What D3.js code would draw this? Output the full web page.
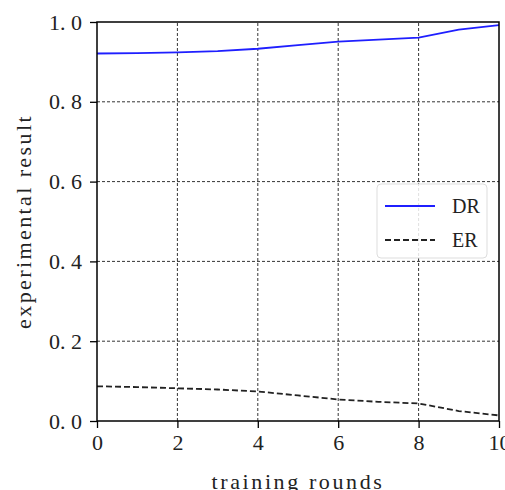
<!DOCTYPE html>
<html>
<head>
<meta charset="utf-8">
<script src="https://cdn.jsdelivr.net/npm/d3@7"></script>
<style>
  body { margin: 0; background: #fff; }
  svg text { font-family: "Liberation Serif", "DejaVu Serif", serif; fill: #222; }
</style>
</head>
<body>
<div id="chart"></div>
<script>
// data
const rounds = [0, 1, 2, 3, 4, 5, 6, 7, 8, 9, 10];
const drValues = [0.921, 0.922, 0.924, 0.927, 0.933, 0.942, 0.951, 0.956, 0.961, 0.981, 0.992];
const erValues = [0.087, 0.085, 0.082, 0.079, 0.074, 0.064, 0.054, 0.048, 0.044, 0.025, 0.014];
const xTicks = [0, 2, 4, 6, 8, 10];
const yTicks = [0, 0.2, 0.4, 0.6, 0.8, 1.0];

const width = 505, height = 490;
const margin = {left: 97, right: 6, top: 22, bottom: 69};

const svg = d3.select("#chart").append("svg")
  .attr("width", width).attr("height", height);

const x = d3.scaleLinear().domain([0, 10]).range([margin.left, width - margin.right]);
const y = d3.scaleLinear().domain([0, 1]).range([height - margin.bottom, margin.top]);

// grid
svg.append("g").selectAll("line").data(xTicks.slice(1, -1)).enter().append("line")
  .attr("x1", d => x(d)).attr("x2", d => x(d))
  .attr("y1", y(0)).attr("y2", y(1))
  .attr("stroke", "#000").attr("stroke-width", 0.8).attr("stroke-dasharray", "3,2");
svg.append("g").selectAll("line").data(yTicks.slice(1, -1)).enter().append("line")
  .attr("y1", d => y(d)).attr("y2", d => y(d))
  .attr("x1", x(0)).attr("x2", x(10))
  .attr("stroke", "#000").attr("stroke-width", 0.8).attr("stroke-dasharray", "3,2");

// lines
const line = vals => d3.line().x((d, i) => x(rounds[i])).y(d => y(d))(vals);
svg.append("path").attr("d", line(drValues))
  .attr("fill", "none").attr("stroke", "#1f1fff").attr("stroke-width", 1.8);
svg.append("path").attr("d", line(erValues))
  .attr("fill", "none").attr("stroke", "#222").attr("stroke-width", 1.8)
  .attr("stroke-dasharray", "6,3");

// axes
const xAxis = svg.append("g")
  .attr("transform", `translate(0,${y(0)})`)
  .call(d3.axisBottom(x).tickValues(xTicks).tickSize(7).tickPadding(6).tickFormat(d3.format("d")));
const yAxis = svg.append("g")
  .attr("transform", `translate(${x(0)},0)`)
  .call(d3.axisLeft(y).tickValues(yTicks).tickSize(7).tickPadding(8).tickFormat(d3.format(".1f")));
[xAxis, yAxis].forEach(g => {
  g.select(".domain").remove();
  g.selectAll(".tick line").attr("stroke", "#000").attr("stroke-width", 1.3);
  g.selectAll("text")
    .style("font-family", "'Liberation Serif', serif")
    .style("font-size", "22px").style("fill", "#222");
});
yAxis.selectAll("text").text(d => d3.format(".1f")(d).replace(".", ". ")).attr("xml:space", "preserve");

// frame
svg.append("rect")
  .attr("x", x(0)).attr("y", y(1))
  .attr("width", x(10) - x(0)).attr("height", y(0) - y(1))
  .attr("fill", "none").attr("stroke", "#000").attr("stroke-width", 1.5);

// axis titles
svg.append("text")
  .attr("x", (x(0) + x(10)) / 2).attr("y", 489)
  .attr("text-anchor", "middle").style("font-size", "22px")
  .attr("letter-spacing", 2.6)
  .text("training rounds");
svg.append("text")
  .attr("transform", `translate(31,${(y(0) + y(1)) / 2}) rotate(-90)`)
  .attr("text-anchor", "middle").style("font-size", "22px")
  .attr("letter-spacing", 2.4)
  .text("experimental result");

// legend
const legend = svg.append("g");
legend.append("rect")
  .attr("x", 377).attr("y", 184).attr("width", 110).attr("height", 74)
  .attr("rx", 4).attr("fill", "#fff").attr("fill-opacity", 0.85)
  .attr("stroke", "#ddd").attr("stroke-width", 1);
const entries = [
  {name: "DR", color: "#1f1fff", dash: null},
  {name: "ER", color: "#222", dash: "6,3"}
];
entries.forEach((e, i) => {
  const yy = 206 + i * 34;
  legend.append("line")
    .attr("x1", 385).attr("x2", 435).attr("y1", yy).attr("y2", yy)
    .attr("stroke", e.color).attr("stroke-width", 1.8)
    .attr("stroke-dasharray", e.dash);
  legend.append("text")
    .attr("x", 452).attr("y", yy + 7)
    .style("font-size", "20px")
    .text(e.name);
});
</script>
</body>
</html>
